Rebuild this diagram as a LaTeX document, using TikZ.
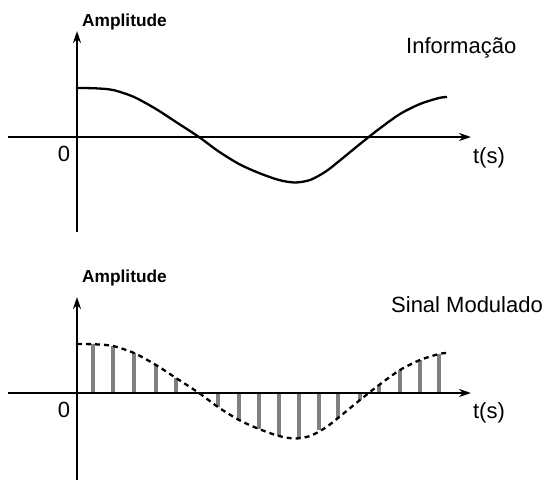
\documentclass[tikz,border=0pt]{standalone}
\usepackage{fontspec}
\setmainfont{Liberation Sans}
\usetikzlibrary{arrows.meta}
\begin{document}
\begin{tikzpicture}[x=1pt,y=-1pt,
 axis/.style={line width=2.3pt,-{Stealth[length=12pt,width=8pt]}},
 sig/.style={line width=2.3pt},
 env/.style={line width=2.3pt,dash pattern=on 5pt off 4pt},
 barline/.style={line width=3.8pt,draw=gray},
 lbl/.style={font=\fontsize{22}{25}\selectfont, inner sep=0pt},
 amp/.style={font=\fontsize{17.3}{20}\selectfont\bfseries, inner sep=0pt}]
\useasboundingbox (0,0) rectangle (550,488);
% ---------- top panel ----------
\coordinate (ha) at (8,137);
\coordinate (hb) at (471,137);
\coordinate (va) at (77,232);
\coordinate (vb) at (77,31);
\draw[axis] (ha) -- (hb);
\draw[axis] (va) -- (vb);
\draw[sig] plot[smooth,tension=0.5] coordinates {(77,88) (95,88.3) (113,90) (134,97) (156,109) (176,122) (199,137) (218,151) (239,164) (259,173) (279,180) (295,182.5) (310,180) (325,172) (338,162) (360,144) (379,129) (400,114) (420,104) (439,98) (447,97)};
\node[amp, anchor=base west] (amp1) at (82,26) {Amplitude};
\node[lbl, anchor=base] (zero1) at (64,161) {0};
\node[lbl, anchor=base west] (info) at (406,53) {Informação};
\node[lbl, anchor=base] (t1) at (489,163) {t(s)};
% ---------- bottom panel ----------
\begin{scope}[shift={(0,256)}]
\foreach \x/\y in {93/87.5, 113/89.5, 134/97, 156/109, 176/122, 218/151, 239/164, 259/173, 279/180, 299/181.5, 319/174, 338/162, 360/144, 379/129, 400/114, 420/104, 439/98}
  \draw[barline] (\x,137) -- (\x,\y);
\coordinate (hc) at (8,137);
\coordinate (hd) at (471,137);
\coordinate (vc) at (77,224);
\coordinate (vd) at (77,41);
\draw[axis] (hc) -- (hd);
\draw[axis] (vc) -- (vd);
\draw[env] plot[smooth,tension=0.5] coordinates {(77,88) (95,88.3) (113,90) (134,97) (156,109) (176,122) (199,137) (218,151) (239,164) (259,173) (279,180) (295,182.5) (310,180) (325,172) (338,162) (360,144) (379,129) (400,114) (420,104) (439,98) (447,97)};
\end{scope}
\node[amp, anchor=base west] (amp2) at (82,282) {Amplitude};
\node[lbl, anchor=base] (zero2) at (64,417) {0};
\node[lbl, anchor=base west] (sinal) at (391,312) {Sinal Modulado};
\node[lbl, anchor=base] (t2) at (489,418) {t(s)};
\end{tikzpicture}
\end{document}
